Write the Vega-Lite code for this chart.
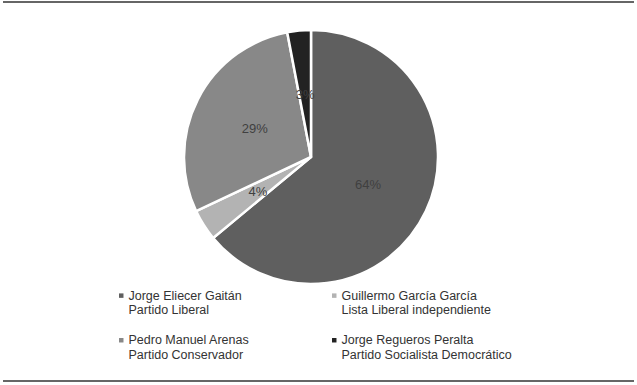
{
  "$schema": "https://vega.github.io/schema/vega-lite/v6.json",
  "width": 637,
  "height": 385,
  "padding": 0,
  "autosize": {"type": "none"},
  "background": "white",
  "config": {"view": {"stroke": null}, "font": "Liberation Sans"},
  "layer": [
    {
      "data": {"values": [{"borde": "arriba"}, {"borde": "abajo"}]},
      "mark": {"type": "rule", "color": "#333333", "strokeWidth": 1.5, "x": 3, "x2": 634},
      "encoding": {
        "y": {"field": "borde", "type": "nominal", "scale": {"type": "point", "domain": ["arriba", "abajo"], "range": [2, 381], "padding": 0}, "axis": null}
      }
    },
    {
      "data": {"values": [
        {"candidato": "Jorge Eliecer Gaitán\nPartido Liberal", "pct": 64, "etiqueta": "64%", "orden": 1},
        {"candidato": "Guillermo García García\nLista Liberal independiente", "pct": 4, "etiqueta": "4%", "orden": 2},
        {"candidato": "Pedro Manuel Arenas\nPartido Conservador", "pct": 29, "etiqueta": "29%", "orden": 3},
        {"candidato": "Jorge Regueros Peralta\nPartido Socialista Democrático", "pct": 3, "etiqueta": "3%", "orden": 4}
      ]},
      "encoding": {
        "theta": {"field": "pct", "type": "quantitative", "stack": true},
        "order": {"field": "orden", "type": "quantitative"}
      },
      "layer": [
        {
          "mark": {"type": "arc", "x": 311, "y": 157, "outerRadius": 127, "stroke": "white", "strokeWidth": 2.5},
          "encoding": {
            "color": {
              "field": "candidato", "type": "nominal",
              "scale": {
                "domain": ["Jorge Eliecer Gaitán\nPartido Liberal", "Pedro Manuel Arenas\nPartido Conservador", "Guillermo García García\nLista Liberal independiente", "Jorge Regueros Peralta\nPartido Socialista Democrático"],
                "range": ["#5f5f5f", "#888888", "#b3b3b3", "#222222"]
              },
              "legend": {
                "orient": "none", "legendX": 115, "legendY": 289, "columns": 2, "title": null,
                "symbolType": "square", "symbolSize": 20, "symbolStrokeWidth": 0,
                "labelFontSize": 12.5, "labelColor": "#333333", "labelFont": "Liberation Sans",
                "labelExpr": "split(datum.label, '\\n')", "labelLimit": 300,
                "columnPadding": 78, "rowPadding": 17, "labelOffset": 1,
                "labelBaseline": "middle",
                "encode": {
                  "labels": {"update": {"lineHeight": {"value": 16}}}
                }
              }
            }
          }
        },
        {
          "mark": {"type": "text", "x": 311, "y": 158, "radius": 63, "fontSize": 13, "color": "#404040", "font": "Liberation Sans"},
          "encoding": {
            "text": {"field": "etiqueta", "type": "nominal"}
          }
        }
      ]
    }
  ]
}
